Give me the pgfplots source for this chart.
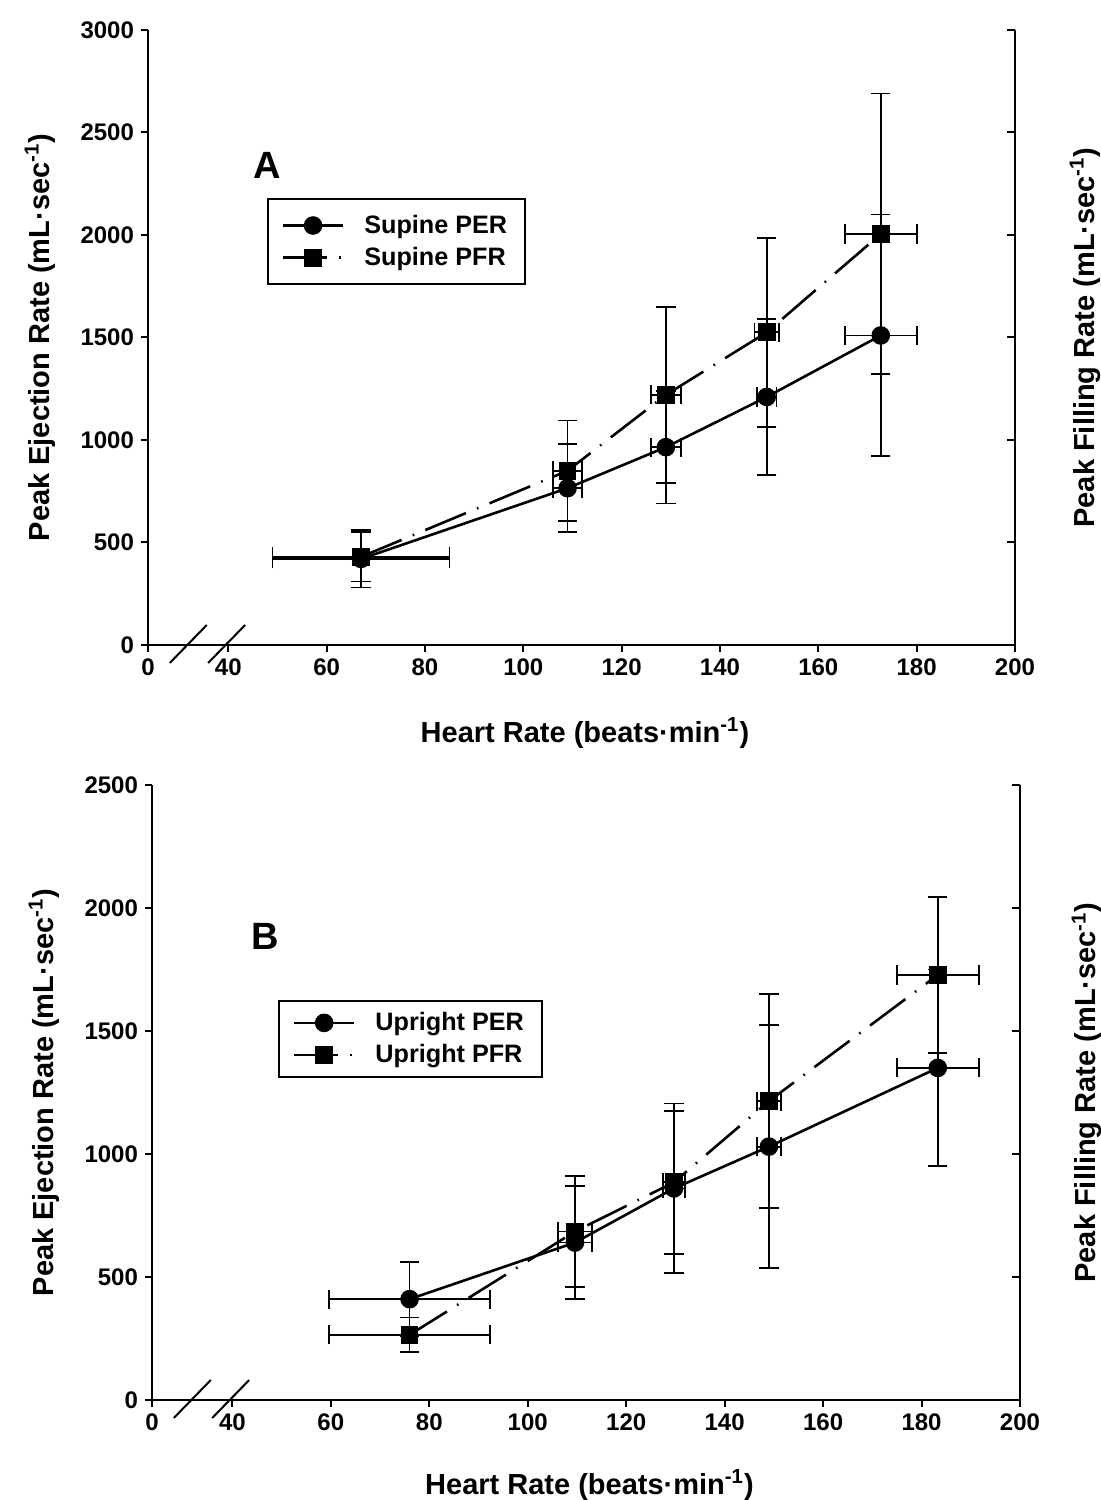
\documentclass[border=0pt]{standalone}
\usepackage{fontspec}
\setmainfont{Liberation Sans}
\usepackage{pgfplots}
\pgfplotsset{compat=1.18}
\pgfplotsset{
  base/.style={scale only axis, width=433.5pt, height=307.5pt,
    xmin=23.67, xmax=200, ymin=0, clip=false,
    axis x line*=bottom, axis y line*=left,
    axis line style={line width=1pt},
    tick align=outside, major tick length=3.5pt,
    every tick/.style={black, line width=1pt},
    xtick={23.67,40,60,80,100,120,140,160,180,200},
    xticklabels={0,40,60,80,100,120,140,160,180,200},
    scaled y ticks=false,
    /pgf/number format/1000 sep={},
    /pgf/number format/assume math mode=true,
    tick label style={font=\bfseries\fontsize{12}{14}\selectfont},
    label style={font=\bfseries\fontsize{14.5}{17}\selectfont},
    xlabel={Heart Rate (beats·min\textsuperscript{-1})},
    ylabel={Peak Ejection Rate (mL·sec\textsuperscript{-1})},
    xlabel style={at={(axis description cs:0.504,-0.143)}, anchor=center},
    ylabel style={at={(axis description cs:-0.1246,0.5)}, anchor=center},
    legend cell align=left,
    legend image code/.code={\draw[mark repeat=2,mark phase=2,##1] plot coordinates {(0pt,0pt) (15pt,0pt) (30pt,0pt)};},
  },
  rightax/.style={scale only axis, width=433.5pt, height=307.5pt,
    xmin=23.67, xmax=200, ymin=0, clip=false,
    axis x line=none, axis y line*=right,
    axis line style={line width=1pt},
    tick align=inside, major tick length=4pt,
    every tick/.style={black, line width=1pt},
    yticklabels={},
    label style={font=\bfseries\fontsize{14.5}{17}\selectfont},
    ylabel={Peak Filling Rate (mL·sec\textsuperscript{-1})},
    ylabel style={at={(axis description cs:1.0807,0.5)}, anchor=center},
  },
  lgd/.style={legend style={draw=black, line width=1pt,
    font=\bfseries\fontsize{12.6}{14}\selectfont,
    inner xsep=7pt, inner ysep=6pt, row sep=1.5pt, column sep=8pt}},
  per/.style={black, line width=1.3pt, mark=*, mark size=4pt,
    mark options={solid, fill=black},
    error bars/.cd, x dir=both, x explicit, y dir=both, y explicit,
    error bar style={line width=0.9pt, solid},
    error mark options={line width=0.9pt, mark size=4.8pt, solid, rotate=90}},
  pfr/.style={black, line width=1.3pt, dash pattern=on 22pt off 6pt on 0.8pt off 6pt,
    mark=square*, mark size=3.8pt,
    mark options={solid, fill=black},
    error bars/.cd, x dir=both, x explicit, y dir=both, y explicit,
    error bar style={line width=0.9pt, solid},
    error mark options={line width=0.9pt, mark size=4.8pt, solid, rotate=90}},
}
\begin{document}
\begin{tikzpicture}
\useasboundingbox (0,0) rectangle (550.5pt,750pt);
% ---------------- Panel A ----------------
\begin{axis}[base, lgd, at={(74pt,427.5pt)}, ymax=3000, ytick={0,500,1000,1500,2000,2500,3000},
  legend style={at={(axis description cs:0.137,0.727)}, anchor=north west}]
\addplot[per] table[x=x, y=y, x error=ex, y error=ey] {
x y ex ey
67 420 18 140
109 765 3 215
129 965 3 275
149.5 1210 2 380
172.7 1510 7.3 590
};
\addplot[pfr] table[x=x, y=y, x error=ex, y error=ey] {
x y ex ey
67 430 18 120
109 850 3 245
129 1220 3 430
149.5 1525 2.5 460
172.7 2005 7.3 685
};
\legend{Supine PER, Supine PFR}
\node[font=\bfseries\fontsize{19}{21}\selectfont] at (axis description cs:0.137,0.78) {A};
\draw[line width=1pt] (axis cs:28.1,0) ++(0pt,-9pt) -- ++(18.5pt,19pt);
\draw[line width=1pt] (axis cs:35.9,0) ++(0pt,-9pt) -- ++(18.5pt,19pt);
\end{axis}
\begin{axis}[rightax, at={(74pt,427.5pt)}, ymax=3000, ytick={0,500,1000,1500,2000,2500,3000}]
\end{axis}
% ---------------- Panel B ----------------
\begin{axis}[base, lgd, at={(76pt,50pt)}, width=434pt, ymax=2500, ytick={0,500,1000,1500,2000,2500},
  xlabel style={at={(axis description cs:0.504,-0.138)}, anchor=center},
  legend style={at={(axis description cs:0.145,0.650)}, anchor=north west, inner ysep=3.5pt}]
\addplot[per] table[x=x, y=y, x error=ex, y error=ey] {
x y ex ey
76 410 16.3 150
109.6 640 3.4 230
129.7 860 2.3 345
149 1030 2.5 495
183.3 1350 8.3 400
};
\addplot[pfr] table[x=x, y=y, x error=ex, y error=ey] {
x y ex ey
76 265 16.3 70
109.6 685 3.4 225
129.7 885 2.3 290
149 1215 2.5 435
183.3 1728 8.3 317
};
\legend{Upright PER, Upright PFR}
\node[font=\bfseries\fontsize{19}{21}\selectfont] at (axis description cs:0.130,0.753) {B};
\draw[line width=1pt] (axis cs:28.1,0) ++(0pt,-9pt) -- ++(18.5pt,19pt);
\draw[line width=1pt] (axis cs:35.9,0) ++(0pt,-9pt) -- ++(18.5pt,19pt);
\end{axis}
\begin{axis}[rightax, at={(76pt,50pt)}, width=434pt, ymax=2500, ytick={0,500,1000,1500,2000,2500},
  ylabel style={at={(axis description cs:1.077,0.5)}, anchor=center}]
\end{axis}
\end{tikzpicture}
\end{document}
